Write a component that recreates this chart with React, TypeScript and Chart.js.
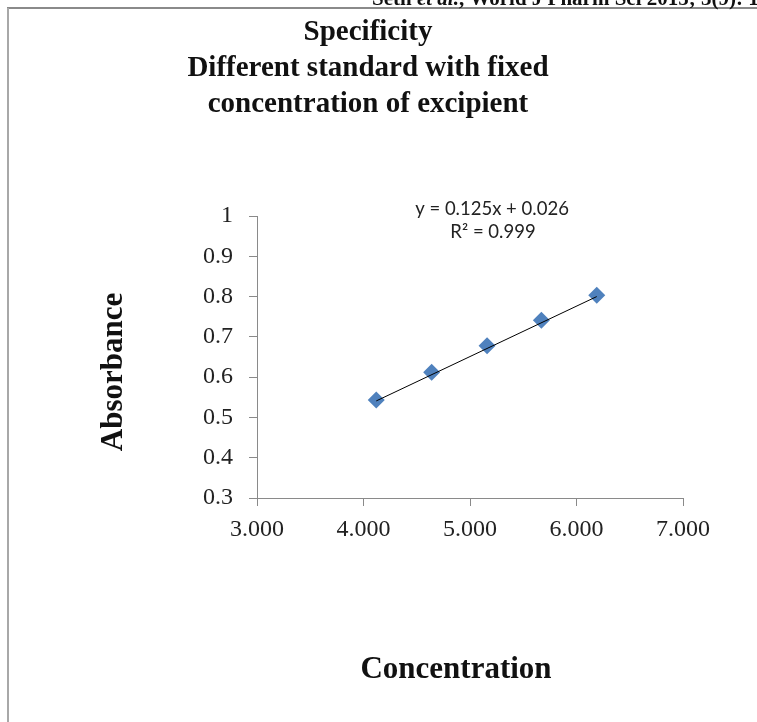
import React, { useEffect, useRef } from "react";
import { Chart, registerables } from "chart.js";

Chart.register(...registerables);

// ---- data ----
const concentration = [4.12, 4.64, 5.16, 5.67, 6.19];
const absorbance = [0.543, 0.612, 0.678, 0.741, 0.803];
const trendX = [4.12, 6.19];
const trendY = [0.541, 0.8];
const titleLines = ["Specificity", "Different standard with fixed", "concentration of excipient"];
const equationLines = ["y = 0.125x + 0.026", "R\u00B2 = 0.999"];
const xTitle = "Concentration";
const yTitle = "Absorbance";
const headerText = ["Seth ", "et al.", ", World J Pharm Sci 2015; 3(9): 1"];

const SERIF = '"Liberation Serif", "Times New Roman", serif';
const SANS = 'Lato, "Open Sans", sans-serif';

const overlay = {
  id: "overlay",
  beforeDraw(chart: any) {
    const ctx = chart.ctx;
    ctx.save();
    ctx.fillStyle = "#ffffff";
    ctx.fillRect(0, 0, chart.width, chart.height);
    ctx.restore();
  },
  afterDraw(chart: any) {
    const ctx = chart.ctx;
    ctx.save();
    // page frame lines
    ctx.strokeStyle = "#8a8a8a";
    ctx.lineWidth = 2;
    ctx.beginPath();
    ctx.moveTo(7, 8);
    ctx.lineTo(757, 8);
    ctx.stroke();
    ctx.strokeStyle = "#a8a8a8";
    ctx.beginPath();
    ctx.moveTo(8, 8);
    ctx.lineTo(8, 722);
    ctx.stroke();

    // header (cut off at top)
    ctx.fillStyle = "#111";
    ctx.textBaseline = "alphabetic";
    ctx.textAlign = "left";
    let hx = 372;
    headerText.forEach((seg, i) => {
      ctx.font = (i === 1 ? "italic bold 21px " : "bold 21px ") + SERIF;
      ctx.fillText(seg, hx, 5);
      hx += ctx.measureText(seg).width;
    });

    // title
    ctx.font = "bold 29px " + SERIF;
    ctx.textAlign = "center";
    ctx.fillStyle = "#111";
    const base = [40, 76, 112];
    titleLines.forEach((t, i) => ctx.fillText(t, 368, base[i]));

    // equation
    ctx.font = "18.5px " + SANS;
    ctx.fillStyle = "#222";
    ctx.fillText(equationLines[0], 492, 215);
    ctx.fillText(equationLines[1], 493, 238);

    // axis titles
    ctx.font = "bold 31px " + SERIF;
    ctx.fillStyle = "#111";
    ctx.fillText(xTitle, 456, 678);
    ctx.translate(122, 372);
    ctx.rotate(-Math.PI / 2);
    ctx.fillText(yTitle, 0, 0);
    ctx.restore();
  },
};

export default function App() {
  const ref = useRef<HTMLCanvasElement>(null);
  useEffect(() => {
    if (!ref.current) return;
    const chart = new Chart(ref.current, {
      type: "scatter",
      data: {
        datasets: [
          {
            label: "trend",
            type: "line",
            data: trendX.map((x, i) => ({ x, y: trendY[i] })),
            borderColor: "#000000",
            borderWidth: 1,
            pointRadius: 0,
            fill: false,
            order: 0,
          } as any,
          {
            label: "Absorbance",
            data: concentration.map((x, i) => ({ x, y: absorbance[i] })),
            pointStyle: "rectRot",
            pointRadius: 8.5,
            backgroundColor: "#4F81BD",
            borderColor: "#4F81BD",
            borderWidth: 0,
            order: 1,
          },
        ],
      },
      options: {
        animation: false,
        responsive: false,
        maintainAspectRatio: false,
        layout: { padding: { top: 216, left: 0, right: 74, bottom: 174 } },
        plugins: {
          legend: { display: false },
          tooltip: { enabled: false },
          title: { display: false },
        },
        scales: {
          x: {
            type: "linear",
            min: 3,
            max: 7,
            afterFit: (s: any) => {
              s.height = 50;
            },
            ticks: {
              stepSize: 1,
              callback: (v: any) => Number(v).toFixed(3),
              font: { family: SERIF, size: 24 },
              color: "#222",
              padding: 9,
            },
            grid: {
              drawOnChartArea: false,
              drawTicks: true,
              tickLength: 8,
              color: "#8a8a8a",
            },
            border: { display: true, color: "#8a8a8a", width: 1 },
          },
          y: {
            type: "linear",
            min: 0.3,
            max: 1,
            afterFit: (s: any) => {
              s.width = 257;
            },
            ticks: {
              stepSize: 0.1,
              callback: (v: any) => String(Number(Number(v).toFixed(1))),
              font: { family: SERIF, size: 24 },
              color: "#222",
              padding: 16,
            },
            grid: {
              drawOnChartArea: false,
              drawTicks: true,
              tickLength: 8,
              color: "#8a8a8a",
            },
            border: { display: true, color: "#8a8a8a", width: 1 },
          },
        },
      },
      plugins: [overlay],
    });
    return () => chart.destroy();
  }, []);
  return (
    <div style={{ position: "absolute", left: 0, top: 0, width: 757, height: 722 }}>
      <canvas ref={ref} width={757} height={722} style={{ display: "block" }} />
    </div>
  );
}
